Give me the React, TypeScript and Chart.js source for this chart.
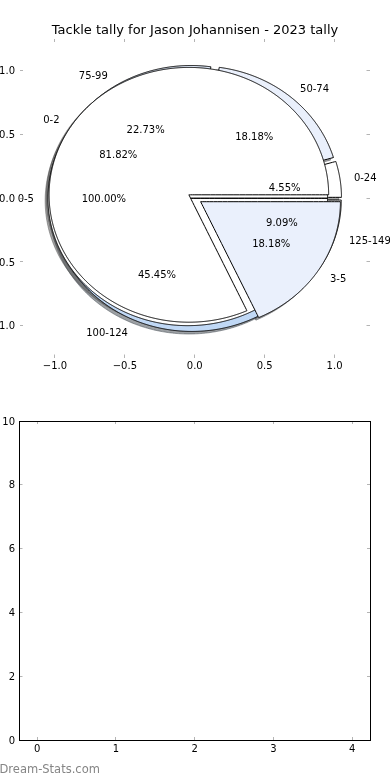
import React, { useEffect, useRef } from 'react';
import { Chart, registerables } from 'chart.js';

Chart.register(...registerables);

// ---------------- data ----------------
const chartTitle = 'Tackle tally for Jason Johannisen - 2023 tally';
const tackleRangeLabels = ['0-24', '50-74', '75-99', '100-124', '125-149'];
const tackleRangeGames = [1, 4, 5, 10, 2];
const totalRangeLabels = ['0-5'];
const totalRangeGames = [11];
const subRangeLabels = ['0-2', '3-5'];
const subRangeGames = [9, 2];
const pieAxisTicks = [-1, -0.5, 0, 0.5, 1];
const lowerXTicks = [0, 1, 2, 3, 4];
const lowerYTicks = [0, 2, 4, 6, 8, 10];
const watermark = 'Dream-Stats.com';

// ---------------- style ----------------
const FONT = '"DejaVu Sans", Verdana, sans-serif';
const EXPLODE = 0.05;
const SHADOW_OFFSET = -0.02;
const LABEL_DIST = 1.1;
const PCT_DIST = 0.6;
const SLICE_COLORS = ['#ffffff', '#eaf0fc', '#dfe9f8', '#c0d8f5', '#ffffff'];
const TICK_COLOR = '#b4b4b4';

interface Slice {
  label: string;
  pct: string;
  t1: number;
  t2: number;
  mid: number;
  cx: number;
  cy: number;
  color: string;
}

function buildPie(labels: string[], values: number[]): Slice[] {
  const total = values.reduce((a, b) => a + b, 0);
  let acc = 0;
  return values.map((v, i) => {
    const t1 = (360 * acc) / total;
    acc += v;
    const t2 = (360 * acc) / total;
    const mid = (((t1 + t2) / 2) * Math.PI) / 180;
    return {
      label: labels[i],
      pct: ((100 * v) / total).toFixed(2) + '%',
      t1,
      t2,
      mid,
      cx: EXPLODE * Math.cos(mid),
      cy: EXPLODE * Math.sin(mid),
      color: SLICE_COLORS[i % SLICE_COLORS.length],
    };
  });
}

function wedgePolygon(s: Slice, dx: number, dy: number) {
  const ox = s.cx + dx;
  const oy = s.cy + dy;
  const pts = [{ x: ox, y: oy }];
  const n = Math.max(2, Math.ceil((s.t2 - s.t1) / 0.5));
  for (let k = 0; k <= n; k++) {
    const a = ((s.t1 + ((s.t2 - s.t1) * k) / n) * Math.PI) / 180;
    pts.push({ x: ox + Math.cos(a), y: oy + Math.sin(a) });
  }
  pts.push({ x: ox, y: oy });
  return pts;
}

function shadowOf(hex: string) {
  const r = parseInt(hex.slice(1, 3), 16);
  const g = parseInt(hex.slice(3, 5), 16);
  const b = parseInt(hex.slice(5, 7), 16);
  return `rgba(${Math.round(r * 0.3)},${Math.round(g * 0.3)},${Math.round(b * 0.3)},0.5)`;
}

const pies: Slice[][] = [
  buildPie(tackleRangeLabels, tackleRangeGames),
  buildPie(totalRangeLabels, totalRangeGames),
  buildPie(subRangeLabels, subRangeGames),
];

function buildDatasets() {
  const layers: { poly: { x: number; y: number }[]; fill: string; border: string }[] = [];
  pies.forEach((pie) =>
    pie.forEach((s) => {
      const c = shadowOf(s.color);
      layers.push({ poly: wedgePolygon(s, SHADOW_OFFSET, SHADOW_OFFSET), fill: c, border: c });
    })
  );
  pies.forEach((pie) =>
    pie.forEach((s) => {
      layers.push({ poly: wedgePolygon(s, 0, 0), fill: s.color, border: '#000000' });
    })
  );
  return layers.map((l, i) => ({
    data: l.poly,
    showLine: true,
    fill: 'shape',
    backgroundColor: l.fill,
    borderColor: l.border,
    borderWidth: 1,
    pointRadius: 0,
    pointHoverRadius: 0,
    tension: 0.000001,
    order: layers.length - i,
  }));
}

const fmtPie = (v: number | string) => {
  const n = Number(v);
  const s = Math.abs(n).toFixed(1);
  return n < 0 ? '\u2212' + s : s;
};
const fmtInt = (v: number | string) => String(Number(v));

function axis(
  position: 'left' | 'right' | 'top' | 'bottom',
  min: number,
  max: number,
  ticks: number[],
  size: number,
  showLabels: boolean,
  border: boolean,
  padding: number,
  fmt: (v: number | string) => string
) {
  const vertical = position === 'left' || position === 'right';
  return {
    type: 'linear',
    position,
    min,
    max,
    afterBuildTicks: (a: any) => {
      a.ticks = ticks.map((v) => ({ value: v }));
    },
    afterFit: (a: any) => {
      if (vertical) a.width = size;
      else a.height = size;
    },
    grid: {
      display: true,
      drawOnChartArea: false,
      drawTicks: true,
      tickLength: -3,
      color: TICK_COLOR,
      lineWidth: 1,
    },
    border: { display: border, color: '#000000', width: 1 },
    ticks: {
      display: showLabels,
      padding,
      labelOffset: vertical ? 1 : 0,
      autoSkip: false,
      maxRotation: 0,
      minRotation: 0,
      color: '#000000',
      font: { family: FONT, size: 10 },
      callback: fmt,
    },
  };
}

const pieTextPlugin = {
  id: 'pieText',
  afterDatasetsDraw(chart: any) {
    const { ctx } = chart;
    const xs = chart.scales.x;
    const ys = chart.scales.y;
    ctx.save();
    ctx.font = `10px ${FONT}`;
    ctx.fillStyle = '#000000';
    ctx.textBaseline = 'middle';
    pies.forEach((pie) =>
      pie.forEach((s) => {
        const lx = s.cx + LABEL_DIST * Math.cos(s.mid);
        const ly = s.cy + LABEL_DIST * Math.sin(s.mid);
        ctx.textAlign = lx > 0 ? 'left' : 'right';
        ctx.fillText(s.label, xs.getPixelForValue(lx), ys.getPixelForValue(ly) + 1.5);
        const px = s.cx + PCT_DIST * Math.cos(s.mid);
        const py = s.cy + PCT_DIST * Math.sin(s.mid);
        ctx.textAlign = 'center';
        ctx.fillText(s.pct, xs.getPixelForValue(px), ys.getPixelForValue(py) + 1.5);
      })
    );
    ctx.restore();
  },
};

const watermarkPlugin = {
  id: 'watermark',
  afterDraw(chart: any) {
    const { ctx } = chart;
    ctx.save();
    ctx.font = `11.5px ${FONT}`;
    ctx.fillStyle = '#858585';
    ctx.textAlign = 'left';
    ctx.textBaseline = 'middle';
    ctx.fillText(watermark, -0.5, 380.5);
    ctx.restore();
  },
};

export default function App() {
  const topRef = useRef<HTMLCanvasElement>(null);
  const botRef = useRef<HTMLCanvasElement>(null);

  useEffect(() => {
    const top = new Chart(topRef.current as HTMLCanvasElement, {
      type: 'scatter',
      data: { datasets: buildDatasets() as any },
      options: {
        responsive: false,
        animation: false,
        devicePixelRatio: 1,
        events: [],
        layout: { padding: { left: 0, right: 0, top: 0, bottom: 0 } },
        plugins: {
          legend: { display: false },
          tooltip: { enabled: false },
          title: {
            display: true,
            text: chartTitle,
            color: '#000000',
            font: { family: FONT, size: 13, weight: 'normal' },
            padding: { top: 23, bottom: 0.4 },
          },
        },
        scales: {
          x: axis('bottom', -1.25, 1.25, pieAxisTicks, 32.5, true, false, 5.5, fmtPie),
          x2: axis('top', -1.25, 1.25, pieAxisTicks, 0, false, false, 0, fmtPie),
          y: axis('left', -1.25, 1.25, pieAxisTicks, 20, true, false, 8, fmtPie),
          y2: axis('right', -1.25, 1.25, pieAxisTicks, 20.5, false, false, 0, fmtPie),
        } as any,
      },
      plugins: [pieTextPlugin],
    });

    const bottom = new Chart(botRef.current as HTMLCanvasElement, {
      type: 'scatter',
      data: { datasets: [] },
      options: {
        responsive: false,
        animation: false,
        devicePixelRatio: 1,
        events: [],
        layout: { padding: { left: 0, right: 20, top: 31, bottom: 0 } },
        plugins: { legend: { display: false }, tooltip: { enabled: false } },
        scales: {
          x: axis('bottom', -0.225, 4.225, lowerXTicks, 40, true, true, 6, fmtInt),
          x2: axis('top', -0.225, 4.225, lowerXTicks, 0, false, true, 0, fmtInt),
          y: axis('left', 0, 10, lowerYTicks, 19.5, true, true, 7.5, fmtInt),
          y2: axis('right', 0, 10, lowerYTicks, 0, false, true, 0, fmtInt),
        } as any,
      },
      plugins: [watermarkPlugin],
    });

    return () => {
      top.destroy();
      bottom.destroy();
    };
  }, []);

  return (
    <div
      style={{
        position: 'absolute',
        left: 0,
        top: 0,
        width: 390,
        height: 780,
        background: '#ffffff',
        overflow: 'hidden',
      }}
    >
      <canvas
        ref={topRef}
        width={390}
        height={390}
        style={{ position: 'absolute', left: 0, top: 0, width: 390, height: 390 }}
      />
      <canvas
        ref={botRef}
        width={390}
        height={390}
        style={{ position: 'absolute', left: 0, top: 390, width: 390, height: 390 }}
      />
    </div>
  );
}
